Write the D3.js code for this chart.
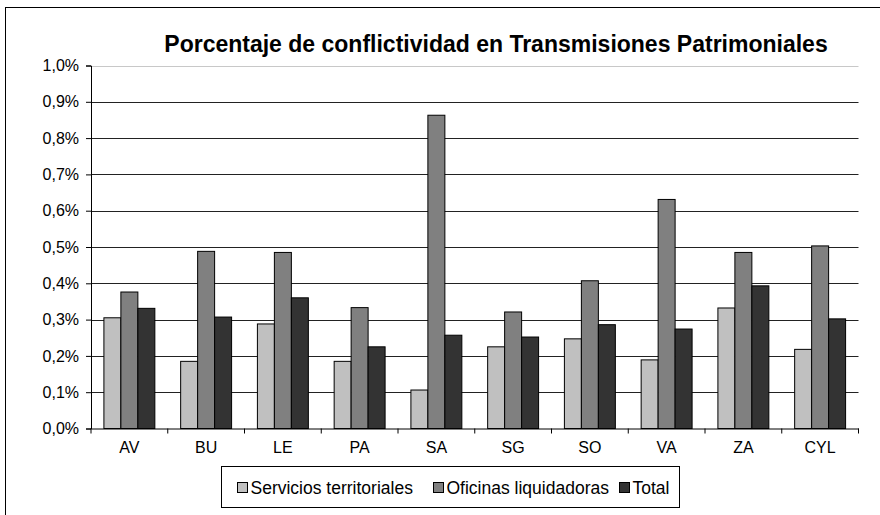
<!DOCTYPE html>
<html>
  <head>
    <meta charset="utf-8" />
    <title>Porcentaje de conflictividad en Transmisiones Patrimoniales</title>
    <script src="https://d3js.org/d3.v7.min.js"></script>
    <style>
      body { margin: 0; background: #fff; }
      svg { display: block; }
      text { font-family: "Liberation Sans", Arial, sans-serif; fill: #000; }
    </style>
  </head>
  <body>
    <svg id="chart" width="880" height="515"></svg>
    <script>
      // Datos (porcentajes)
      const categorias = ["AV", "BU", "LE", "PA", "SA", "SG", "SO", "VA", "ZA", "CYL"];
      const series = ["Servicios territoriales", "Oficinas liquidadoras", "Total"];
      const servicios = [0.305, 0.185, 0.288, 0.185, 0.106, 0.225, 0.247, 0.189, 0.332, 0.218];
      const oficinas = [0.376, 0.488, 0.485, 0.333, 0.863, 0.321, 0.407, 0.631, 0.485, 0.503];
      const total = [0.331, 0.307, 0.36, 0.225, 0.257, 0.252, 0.286, 0.274, 0.393, 0.302];
      const ticksY = [0, 0.1, 0.2, 0.3, 0.4, 0.5, 0.6, 0.7, 0.8, 0.9, 1.0];
      const colores = ["#c0c0c0", "#808080", "#333333"];

      const valores = [servicios, oficinas, total];
      const width = 880;
      const height = 515;
      const svg = d3.select("#chart");

      // Marco exterior
      svg.append("rect")
        .attr("x", 5.5).attr("y", 7.5)
        .attr("width", width).attr("height", height)
        .attr("fill", "none").attr("stroke", "#000");

      const x = d3.scaleBand().domain(categorias).range([91, 858.5]);
      const xSub = d3.scaleBand().domain(series).range([0, x.bandwidth()]).paddingOuter(0.76);
      const y = d3.scaleLinear().domain([0, 1.0]).range([428.5, 65.5]);

      // Líneas de división
      svg.append("g")
        .selectAll("line")
        .data(ticksY.slice(1))
        .enter()
        .append("line")
        .attr("x1", 91).attr("x2", 858.5)
        .attr("y1", (d) => Math.round(y(d)) + 0.5)
        .attr("y2", (d) => Math.round(y(d)) + 0.5)
        .attr("stroke", (d) => (d === 1.0 ? "#c8c8c8" : "#222"))
        .attr("stroke-width", 1);

      // Barras
      const grupos = svg.append("g")
        .selectAll("g")
        .data(categorias)
        .enter()
        .append("g")
        .attr("transform", (d) => `translate(${x(d)},0)`);

      grupos.selectAll("rect")
        .data((d, i) => series.map((s, j) => ({ s, j, v: valores[j][i] })))
        .enter()
        .append("rect")
        .attr("x", (d) => xSub(d.s))
        .attr("y", (d) => y(d.v))
        .attr("width", xSub.bandwidth())
        .attr("height", (d) => y(0) - y(d.v))
        .attr("fill", (d) => colores[d.j])
        .attr("stroke", "#000")
        .attr("stroke-width", 1);

      // Eje Y
      const ejeY = svg.append("g")
        .attr("transform", "translate(91,0)")
        .call(d3.axisLeft(y).tickValues(ticksY).tickSize(5).tickPadding(7)
          .tickFormat((d) => d3.format(".1f")(d).replace(".", ",") + "%"));
      ejeY.select(".domain").attr("stroke", "#000");
      ejeY.selectAll("text").style("font-size", "16px");

      // Eje X
      const ejeX = svg.append("g")
        .attr("transform", "translate(0,428.5)")
        .call(d3.axisBottom(x).tickSize(0).tickPadding(13));
      ejeX.select(".domain").attr("stroke", "#000");
      ejeX.selectAll("text").style("font-size", "16px");
      ejeX.selectAll(".sep")
        .data(d3.range(categorias.length + 1))
        .enter()
        .append("line")
        .attr("class", "sep")
        .attr("x1", (i) => 91 + i * x.step()).attr("x2", (i) => 91 + i * x.step())
        .attr("y1", 0).attr("y2", 5)
        .attr("stroke", "#000");

      // Título
      svg.append("text")
        .attr("x", 496).attr("y", 52)
        .attr("text-anchor", "middle")
        .style("font-size", "23px")
        .style("font-weight", "bold")
        .text("Porcentaje de conflictividad en Transmisiones Patrimoniales");

      // Leyenda
      const leyenda = svg.append("g");
      leyenda.append("rect")
        .attr("x", 221.5).attr("y", 466.5)
        .attr("width", 458).attr("height", 41)
        .attr("fill", "#fff").attr("stroke", "#000");
      const posLeyenda = [237, 433, 619];
      const items = leyenda.selectAll(".item")
        .data(series)
        .enter()
        .append("g")
        .attr("class", "item")
        .attr("transform", (d, i) => `translate(${posLeyenda[i]},0)`);
      items.append("rect")
        .attr("x", 0.5).attr("y", 482.5)
        .attr("width", 10).attr("height", 10)
        .attr("fill", (d, i) => colores[i])
        .attr("stroke", "#000");
      items.append("text")
        .attr("x", 13.5).attr("y", 493.5)
        .style("font-size", "17.5px")
        .text((d) => d);
    </script>
  </body>
</html>
